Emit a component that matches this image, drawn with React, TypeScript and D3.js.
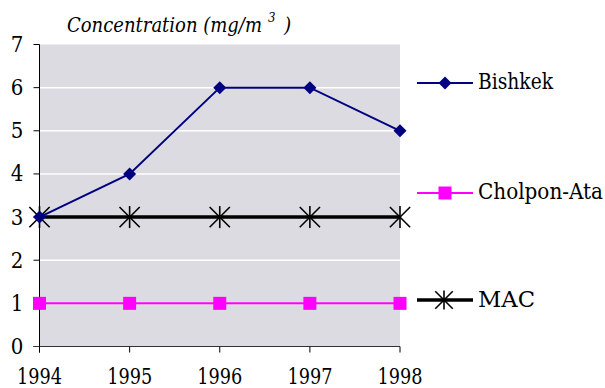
import React from "react";
import * as d3 from "d3";

const years = [1994, 1995, 1996, 1997, 1998];
const bishkek = [3, 4, 6, 6, 5];
const cholponAta = [1, 1, 1, 1, 1];
const mac = [3, 3, 3, 3, 3];
const yTicks = [0, 1, 2, 3, 4, 5, 6, 7];

const W = 605;
const H = 388;
const FONT = "'DejaVu Serif Condensed', 'DejaVu Serif', serif";

const x = d3.scaleLinear().domain([1994, 1998]).range([39.5, 400]);
const y = d3.scaleLinear().domain([0, 7]).range([346.5, 44.5]);

const NAVY = "#000080";
const MAGENTA = "#ff00ff";

const txt = {
  fontFamily: FONT,
  fontStretch: "condensed",
  fontSize: 22,
} as React.CSSProperties;

function Diamond({ cx, cy, r = 6.5 }: { cx: number; cy: number; r?: number }) {
  return (
    <path
      d={`M${cx},${cy - r}L${cx + r},${cy}L${cx},${cy + r}L${cx - r},${cy}Z`}
      fill={NAVY}
    />
  );
}

function Square({ cx, cy, s = 13 }: { cx: number; cy: number; s?: number }) {
  return <rect x={cx - s / 2} y={cy - s / 2} width={s} height={s} fill={MAGENTA} />;
}

function Star({ cx, cy, r = 11 }: { cx: number; cy: number; r?: number }) {
  const d = r * 0.92;
  return (
    <g stroke="#000" strokeWidth={1.6}>
      <line x1={cx - d} y1={cy - d} x2={cx + d} y2={cy + d} />
      <line x1={cx - d} y1={cy + d} x2={cx + d} y2={cy - d} />
      <line x1={cx} y1={cy - r} x2={cx} y2={cy + r} />
    </g>
  );
}

export default function App() {
  const line = d3
    .line<number>()
    .x((_, i) => x(years[i]))
    .y((v) => y(v));

  const plotLeft = x(1994);
  const plotRight = x(1998);

  return (
    <svg
      width={W}
      height={H}
      style={{ position: "absolute", left: 0, top: 0, background: "#fff" }}
    >
      {/* plot background */}
      <rect
        x={plotLeft}
        y={y(7)}
        width={plotRight - plotLeft}
        height={y(0) - y(7)}
        fill="#dcdbe1"
      />
      {/* gridlines */}
      {yTicks
        .filter((t) => t > 0 && t < 7)
        .map((t) => (
          <line
            key={t}
            x1={plotLeft}
            x2={plotRight}
            y1={y(t)}
            y2={y(t)}
            stroke="#fff"
            strokeWidth={1.5}
          />
        ))}

      {/* y axis */}
      <line x1={plotLeft} x2={plotLeft} y1={y(7)} y2={y(0) + 6} stroke="#000" strokeWidth={1} />
      {yTicks.map((t) => (
        <g key={t}>
          <line x1={plotLeft - 6} x2={plotLeft} y1={y(t)} y2={y(t)} stroke="#000" />
          <text x={17} y={y(t) + 7.5} style={txt} textAnchor="middle" fill="#000">
            {t}
          </text>
        </g>
      ))}

      {/* x axis */}
      <line x1={plotLeft - 6} x2={plotRight} y1={y(0)} y2={y(0)} stroke="#333" strokeWidth={1} />
      {years.map((yr) => (
        <g key={yr}>
          <line x1={x(yr)} x2={x(yr)} y1={y(0)} y2={y(0) + 6} stroke="#000" />
          <text
            x={x(yr) - 22.5}
            y={383.5}
            style={txt}
            textLength={45}
            lengthAdjust="spacingAndGlyphs"
            fill="#000"
          >
            {yr}
          </text>
        </g>
      ))}

      {/* title with superscript unit */}
      <g style={{ ...txt, fontStyle: "italic" }} fill="#000">
        <text x={67} y={32} style={{ fontSize: 20.5 }} textLength={195} lengthAdjust="spacingAndGlyphs">
          Concentration (mg/m
        </text>
        <text x={268} y={22} style={{ fontSize: 13 }}>
          3
        </text>
        <text x={284} y={32} style={{ fontSize: 20.5 }}>)</text>
      </g>

      {/* Cholpon-Ata */}
      <path d={line(cholponAta) ?? ""} fill="none" stroke={MAGENTA} strokeWidth={2} />
      {cholponAta.map((v, i) => (
        <Square key={i} cx={x(years[i])} cy={y(v)} />
      ))}

      {/* MAC */}
      <path d={line(mac) ?? ""} fill="none" stroke="#000" strokeWidth={3.5} />
      {mac.map((v, i) => (
        <Star key={i} cx={x(years[i])} cy={y(v)} />
      ))}

      {/* Bishkek */}
      <path d={line(bishkek) ?? ""} fill="none" stroke={NAVY} strokeWidth={2} />
      {bishkek.map((v, i) => (
        <Diamond key={i} cx={x(years[i])} cy={y(v)} />
      ))}

      {/* legend */}
      <g>
        <line x1={417} x2={473} y1={83} y2={83} stroke={NAVY} strokeWidth={2} />
        <Diamond cx={445} cy={83} />
        <text x={478} y={89} style={txt} textLength={75} lengthAdjust="spacingAndGlyphs" fill="#000">
          Bishkek
        </text>

        <line x1={417} x2={473} y1={193} y2={193} stroke={MAGENTA} strokeWidth={2} />
        <Square cx={445} cy={193} />
        <text x={478} y={199} style={txt} textLength={125} lengthAdjust="spacingAndGlyphs" fill="#000">
          Cholpon-Ata
        </text>

        <line x1={417} x2={473} y1={300} y2={300} stroke="#000" strokeWidth={3.5} />
        <Star cx={444} cy={300} r={9.5} />
        <text x={478} y={307} style={txt} textLength={57} lengthAdjust="spacingAndGlyphs" fill="#000">
          MAC
        </text>
      </g>
    </svg>
  );
}
